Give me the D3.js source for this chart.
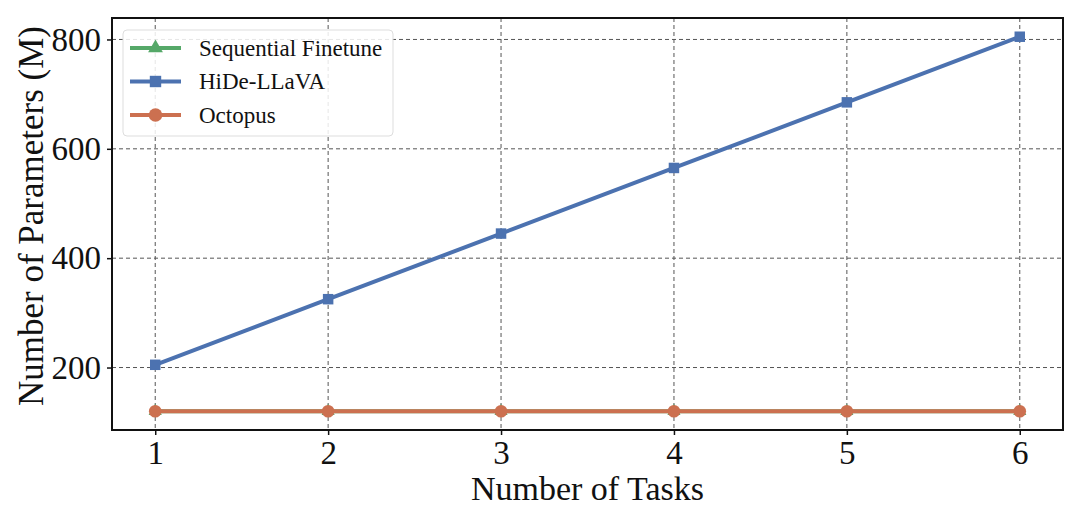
<!DOCTYPE html>
<html><head><meta charset="utf-8">
<script src="https://cdn.jsdelivr.net/npm/d3@7"></script>
<style>body{margin:0;background:#fff}svg{display:block}</style>
</head><body>
<svg id="c" width="1080" height="509"></svg>
<script>
const tasks = [1, 2, 3, 4, 5, 6];
const seqFinetune = [120, 120, 120, 120, 120, 120];
const hideLlava = [205, 325, 445, 565, 685, 805];
const octopus = [120, 120, 120, 120, 120, 120];
const xTicks = [1, 2, 3, 4, 5, 6];
const yTicks = [200, 400, 600, 800];
const seriesNames = ["Sequential Finetune", "HiDe-LLaVA", "Octopus"];

const series = [
  {name: seriesNames[0], values: seqFinetune, color: "#55a868", marker: "triangle"},
  {name: seriesNames[1], values: hideLlava, color: "#4c72b0", marker: "square"},
  {name: seriesNames[2], values: octopus, color: "#cc7050", marker: "circle"}
];

const svg = d3.select("#c");
const m = {l: 112, r: 1063, t: 18, b: 430};
const x = d3.scaleLinear().domain([0.75, 6.25]).range([m.l, m.r]);
const y = d3.scaleLinear().domain([85.75, 839.25]).range([m.b, m.t]);
const font = "'Liberation Serif','Times New Roman',serif";

// grid
const g = svg.append("g");
g.selectAll(".gx").data(xTicks).enter().append("line")
  .attr("x1", d => x(d)).attr("x2", d => x(d)).attr("y1", m.t).attr("y2", m.b)
  .attr("stroke", "#555").attr("stroke-width", 1).attr("stroke-dasharray", "4,3");
g.selectAll(".gy").data(yTicks).enter().append("line")
  .attr("y1", d => y(d)).attr("y2", d => y(d)).attr("x1", m.l).attr("x2", m.r)
  .attr("stroke", "#555").attr("stroke-width", 1).attr("stroke-dasharray", "4,3");

// axes
const xAxis = svg.append("g").attr("transform", `translate(0,${m.b})`)
  .call(d3.axisBottom(x).tickValues(xTicks).tickSize(5).tickPadding(6).tickFormat(d3.format("d")));
const yAxis = svg.append("g").attr("transform", `translate(${m.l},0)`)
  .call(d3.axisLeft(y).tickValues(yTicks).tickSize(5).tickPadding(6).tickFormat(d3.format("d")));
[xAxis, yAxis].forEach(a => {
  a.select(".domain").remove();
  a.selectAll("text").attr("font-family", font).attr("font-size", 33).attr("fill", "#111");
  a.selectAll("line").attr("stroke", "#111").attr("stroke-width", 1.5);
});

// lines
const line = d3.line().x((d, i) => x(tasks[i])).y(d => y(d));
const sym = {triangle: d3.symbolTriangle, square: d3.symbolSquare, circle: d3.symbolCircle};
const symSize = {triangle: 75, square: 110, circle: 125};
series.forEach(s => {
  svg.append("path").datum(s.values).attr("d", line)
    .attr("fill", "none").attr("stroke", s.color).attr("stroke-width", 4);
  svg.selectAll(null).data(s.values).enter().append("path")
    .attr("d", d3.symbol().type(sym[s.marker]).size(symSize[s.marker]))
    .attr("transform", (d, i) => `translate(${x(tasks[i])},${y(d)})`)
    .attr("fill", s.color);
});

// frame
svg.append("rect").attr("x", m.l).attr("y", m.t).attr("width", m.r - m.l).attr("height", m.b - m.t)
  .attr("fill", "none").attr("stroke", "#111").attr("stroke-width", 2);

// legend
const lg = svg.append("g");
lg.append("rect").attr("x", 123).attr("y", 30).attr("width", 270).attr("height", 106)
  .attr("rx", 4).attr("fill", "rgba(255,255,255,0.85)").attr("stroke", "#ddd").attr("stroke-width", 1);
series.forEach((s, i) => {
  const yy = 48 + i * 33.5;
  lg.append("line").attr("x1", 130).attr("x2", 181).attr("y1", yy).attr("y2", yy)
    .attr("stroke", s.color).attr("stroke-width", 4);
  lg.append("path").attr("d", d3.symbol().type(sym[s.marker]).size(symSize[s.marker] + 20))
    .attr("transform", `translate(155.5,${yy})`).attr("fill", s.color);
  lg.append("text").attr("x", 199).attr("y", yy + 7.5).text(s.name)
    .attr("font-family", font).attr("font-size", 23).attr("fill", "#111");
});

// labels
svg.append("text").attr("x", (m.l + m.r) / 2).attr("y", 500).attr("text-anchor", "middle")
  .attr("font-family", font).attr("font-size", 34).attr("fill", "#111").text("Number of Tasks");
svg.append("text").attr("transform", `translate(43,${(m.t + m.b) / 2 - 8}) rotate(-90)`)
  .attr("text-anchor", "middle").attr("font-family", font).attr("font-size", 35).attr("fill", "#111")
  .text("Number of Parameters (M)");
</script>
</body></html>
